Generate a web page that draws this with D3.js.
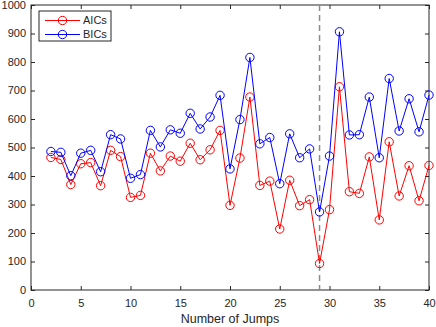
<!DOCTYPE html>
<html>
<head>
<meta charset="utf-8">
<script src="https://cdn.jsdelivr.net/npm/d3@7"></script>
<style>
  body { margin: 0; background: #fff; }
  svg { display: block; font-family: "Liberation Sans", Arial, sans-serif; }
</style>
</head>
<body>
<svg id="chart" width="436" height="327"></svg>
<script>
// number of jumps, 2..40
const jumps = d3.range(2, 41)
const aics = [465, 458, 370, 443, 447, 366, 490, 468, 325, 332,
  480, 418, 470, 452, 515, 457, 492, 560, 297, 463,
  677, 367, 382, 214, 385, 296, 317, 93, 282, 713,
  345, 339, 467, 246, 520, 330, 436, 313, 437]
const bics = [486, 483, 401, 480, 490, 415, 545, 530, 392, 405,
  560, 502, 562, 550, 620, 565, 607, 683, 425, 598,
  816, 513, 535, 373, 548, 464, 495, 274, 470, 906,
  544, 545, 677, 464, 742, 558, 671, 555, 684]
const series = [
  { name: "AICs", values: aics, color: "#ff0000" },
  { name: "BICs", values: bics, color: "#0000ff" }
]
const xTicks = [0, 5, 10, 15, 20, 25, 30, 35, 40]
const yTicks = [0, 100, 200, 300, 400, 500, 600, 700, 800, 900, 1000]
const cutoff = 29

const width = 436, height = 327
const margin = { top: 5, right: 7, bottom: 37, left: 31 }
const innerWidth = width - margin.left - margin.right
const innerHeight = height - margin.top - margin.bottom

const svg = d3.select("#chart")
const g = svg.append("g")
  .attr("transform", `translate(${margin.left}, ${margin.top})`)

const xScale = d3.scaleLinear().domain([0, 40]).range([0, innerWidth])
const yScale = d3.scaleLinear().domain([0, 1000]).range([innerHeight, 0])

const axisColor = "#262626"
const styleAxis = (sel) => {
  sel.attr("font-family", null).attr("font-size", null)
  sel.select(".domain").remove()
  sel.selectAll(".tick line").attr("stroke", axisColor)
  sel.selectAll(".tick text").attr("fill", axisColor).style("font-size", "11px")
}

// bottom axis, ticks pointing inwards
g.append("g")
  .attr("transform", `translate(0, ${innerHeight})`)
  .call(d3.axisBottom(xScale).tickValues(xTicks).tickFormat(d3.format("d"))
    .tickSizeInner(-4).tickSizeOuter(0).tickPadding(9))
  .call(styleAxis)

// left axis: ticks from d3, labels as plain texts
g.append("g")
  .call(d3.axisLeft(yScale).tickValues(yTicks).tickSizeInner(-4).tickSizeOuter(0))
  .call(styleAxis)
  .call(a => a.selectAll(".tick text").remove())

svg.append("g")
  .selectAll("text")
  .data(yTicks)
  .join("text")
  .attr("x", margin.left - 5)
  .attr("y", d => margin.top + yScale(d))
  .attr("dy", "0.35em")
  .attr("text-anchor", "end")
  .attr("fill", axisColor)
  .style("font-size", "11px")
  .text(d3.format("d"))

// top + right ticks, no labels
g.append("g")
  .call(d3.axisTop(xScale).tickValues(xTicks).tickSizeInner(-4).tickSizeOuter(0))
  .call(styleAxis)
  .call(a => a.selectAll(".tick text").remove())

g.append("g")
  .attr("transform", `translate(${innerWidth}, 0)`)
  .call(d3.axisRight(yScale).tickValues(yTicks).tickSizeInner(-4).tickSizeOuter(0))
  .call(styleAxis)
  .call(a => a.selectAll(".tick text").remove())

// box
g.append("rect")
  .attr("width", innerWidth)
  .attr("height", innerHeight)
  .attr("fill", "none")
  .attr("stroke", axisColor)
  .attr("stroke-width", 1)

// dashed cutoff
g.append("line")
  .attr("x1", xScale(cutoff)).attr("x2", xScale(cutoff))
  .attr("y1", 0).attr("y2", innerHeight)
  .attr("stroke", "#8c8c8c")
  .attr("stroke-width", 1.5)
  .attr("stroke-dasharray", "6,4")

const line = d3.line()
  .x((d, i) => xScale(jumps[i]))
  .y(d => yScale(d))

series.forEach(s => {
  g.append("path")
    .attr("d", line(s.values))
    .attr("fill", "none")
    .attr("stroke", s.color)
    .attr("stroke-width", 1)

  g.selectAll(null)
    .data(s.values)
    .join("circle")
    .attr("cx", (d, i) => xScale(jumps[i]))
    .attr("cy", d => yScale(d))
    .attr("r", 4.2)
    .attr("fill", "none")
    .attr("stroke", s.color)
    .attr("stroke-width", 1)
})

// x label
svg.append("text")
  .attr("x", margin.left + innerWidth / 2)
  .attr("y", 323)
  .attr("text-anchor", "middle")
  .attr("fill", axisColor)
  .style("font-size", "12.5px")
  .text("Number of Jumps")

// legend
const legend = svg.append("g").attr("transform", "translate(39, 11)")
legend.append("rect")
  .attr("width", 72).attr("height", 30)
  .attr("fill", "#fff")
  .attr("stroke", axisColor)
  .attr("stroke-width", 1)

series.forEach((s, i) => {
  const row = legend.append("g").attr("transform", `translate(0, ${9.5 + i * 14})`)
  row.append("line")
    .attr("x1", 6).attr("x2", 41)
    .attr("stroke", s.color)
  row.append("circle")
    .attr("cx", 23.5).attr("r", 4.2)
    .attr("fill", "none").attr("stroke", s.color)
  row.append("text")
    .attr("x", 44).attr("dy", "0.35em")
    .attr("fill", axisColor)
    .style("font-size", "11px")
    .text(s.name)
})
</script>
</body>
</html>
